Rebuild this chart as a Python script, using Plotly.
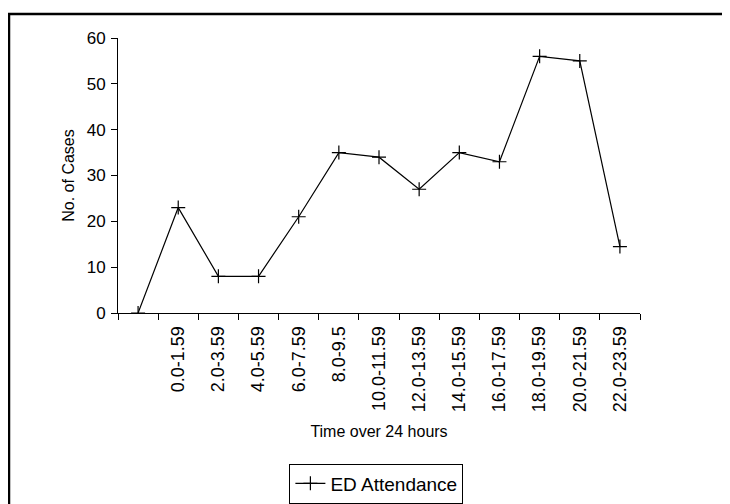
import plotly.graph_objects as go

categories = [" ", "0.0-1.59", "2.0-3.59", "4.0-5.59", "6.0-7.59", "8.0-9.5",
              "10.0-11.59", "12.0-13.59", "14.0-15.59", "16.0-17.59",
              "18.0-19.59", "20.0-21.59", "22.0-23.59"]
cases = [0, 23, 8, 8, 21, 35, 34, 27, 35, 33, 56, 55, 14.5]

font = "Liberation Sans, Arial, sans-serif"

# plot area in figure px (page body adds 8px offset)
L, R, T, B = 110, 632, 30, 305
W, H = R - L, B - T

fig = go.Figure()
fig.add_trace(go.Scatter(
    x=categories, y=cases, mode="lines+markers", name="ED Attendance",
    line=dict(color="black", width=1.2),
    marker=dict(symbol="cross-thin", size=10, color="black",
                line=dict(color="black", width=1.2)),
))

fig.update_layout(
    width=730, height=504,
    margin=dict(l=L, r=730 - R, t=T, b=504 - B, autoexpand=False),
    paper_bgcolor="white", plot_bgcolor="white",
    font=dict(family=font, color="black", size=16),
    showlegend=True,
    legend=dict(x=0.495, y=-0.62, xanchor="center", yanchor="middle",
                bordercolor="black", borderwidth=1, bgcolor="white",
                font=dict(size=19)),
    xaxis=dict(type="category", categoryorder="array", categoryarray=categories,
               range=[-0.5, 12.5], tickson="boundaries", ticks="outside",
               ticklen=6, tickcolor="black", showline=True, linecolor="black",
               linewidth=1, showgrid=False, zeroline=False, tickangle=-90,
               tickfont=dict(size=18), ticklabelstandoff=5,
               title=dict(text="Time over 24 hours", font=dict(size=16), standoff=14)),
    yaxis=dict(range=[0, 60], dtick=10, ticks="outside", ticklen=6,
               tickcolor="black", showline=True, linecolor="black", linewidth=1,
               showgrid=False, zeroline=False, tickfont=dict(size=17),
               ticklabelstandoff=2,
               title=dict(text="No. of Cases", font=dict(size=16), standoff=8)),
    shapes=[dict(type="rect", xref="paper", yref="paper",
                 x0=(1 - L) / W, x1=(760 - L) / W, y0=(B - 520) / H, y1=(B - 6) / H,
                 line=dict(color="black", width=2.5), fillcolor="rgba(0,0,0,0)")],
)

fig.write_html("out.html")
